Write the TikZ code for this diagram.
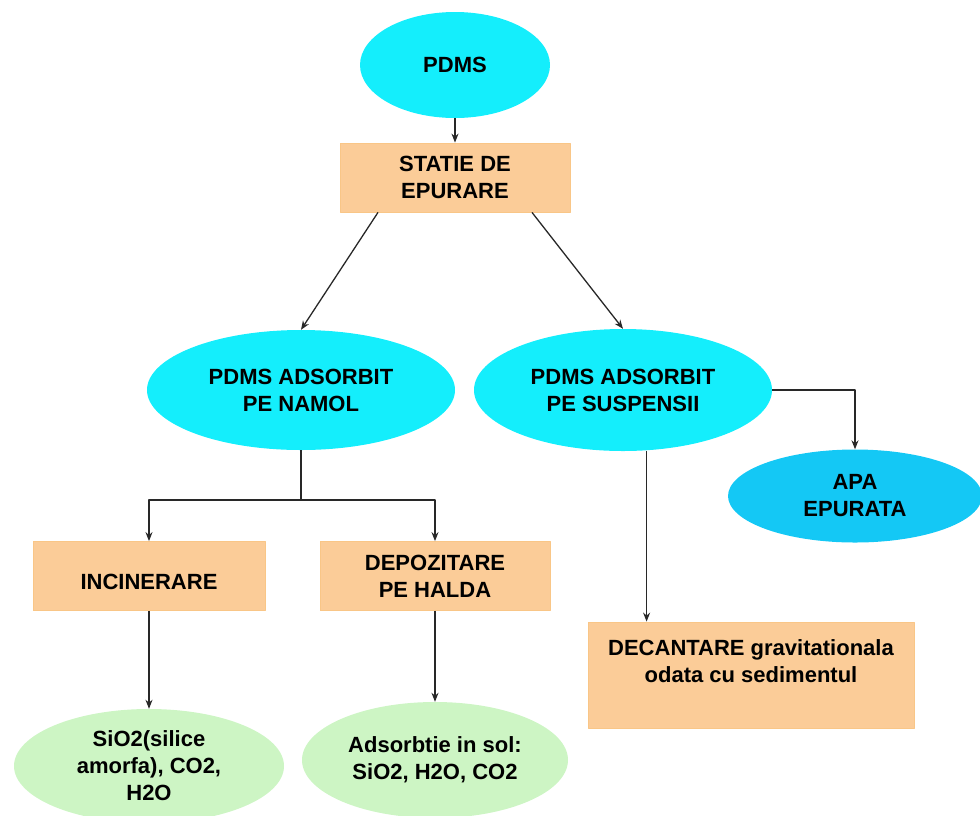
\documentclass[tikz,border=0pt]{standalone}
\usepackage{fontspec}
\setmainfont{Liberation Sans}
\usetikzlibrary{shapes.geometric, arrows.meta}
\definecolor{cyanel}{RGB}{20,238,252}
\definecolor{blueel}{RGB}{20,200,245}
\definecolor{boxfill}{RGB}{251,204,152}
\definecolor{boxedge}{RGB}{249,198,135}
\definecolor{greenel}{RGB}{205,245,196}
\definecolor{linegray}{RGB}{40,40,40}
\tikzset{
  elip/.style={ellipse, fill=#1, inner sep=0pt, align=center},
  caseta/.style={rectangle, fill=boxfill, draw=boxedge, line width=0.8pt, inner sep=0pt, align=center},
  sag/.style={->, draw=linegray, line width=1.3pt},
  lin/.style={draw=linegray, line width=1.3pt}
}

\begin{document}
\begin{tikzpicture}[x=1pt, y=-1pt, font=\fontsize{22}{27}\selectfont\bfseries, line join=round, >={Stealth[length=9pt,width=7pt]}]
\useasboundingbox (0,0) rectangle (980,815);

% Sursa si statia
\node[elip=cyanel, minimum width=190, minimum height=106] (pdms) at (455,65) {PDMS};
\node[caseta, minimum width=230, minimum height=69] (statie) at (455,177.5) {STATIE DE\\EPURARE};

% Namol si suspensii
\node[elip=cyanel, minimum width=308, minimum height=120] (namol) at (301,390) {PDMS ADSORBIT\\PE NAMOL};
\node[elip=cyanel, minimum width=298, minimum height=122] (susp) at (623,390) {PDMS ADSORBIT\\PE SUSPENSII};
\node[elip=blueel, minimum width=254, minimum height=93] (apa) at (855,496) {APA\\EPURATA};

% Tratarea namolului
\node[caseta, minimum width=232, minimum height=69] (incin) at (149,576) {\mbox{}\\INCINERARE};
\node[caseta, minimum width=230, minimum height=69] (depoz) at (435,576) {DEPOZITARE\\PE HALDA};
\node[caseta, minimum width=326, minimum height=106] (decant) at (751,675) {DECANTARE gravitationala\\odata cu sedimentul\\\mbox{}};

% Produse finale
\node[elip=greenel, minimum width=270, minimum height=114] (sio) at (149,766) {SiO2(silice\\amorfa), CO2,\\H2O};
\node[elip=greenel, minimum width=266, minimum height=116] (sol) at (435,760) {Adsorbtie in sol:\\SiO2, H2O, CO2};

% Legaturi
\draw[sag] (pdms) -- (statie);
\draw[sag] ([xshift=-77]statie.south) -- (namol.north);
\draw[sag] ([xshift=77]statie.south) -- (susp.north);
\coordinate (ramif) at (301,500);
\draw[lin] (namol.south) -- (ramif);
\draw[sag] (ramif) -| (incin.north);
\draw[sag] (ramif) -| (depoz.north);
\coordinate (dtop) at ([xshift=59]decant.north west);
\draw[sag] (dtop |- susp.south) -- (dtop);
\draw[sag] (susp.east) -| (apa.north);
\draw[sag] (incin) -- (sio);
\draw[sag] (depoz) -- (sol);
\end{tikzpicture}
\end{document}
